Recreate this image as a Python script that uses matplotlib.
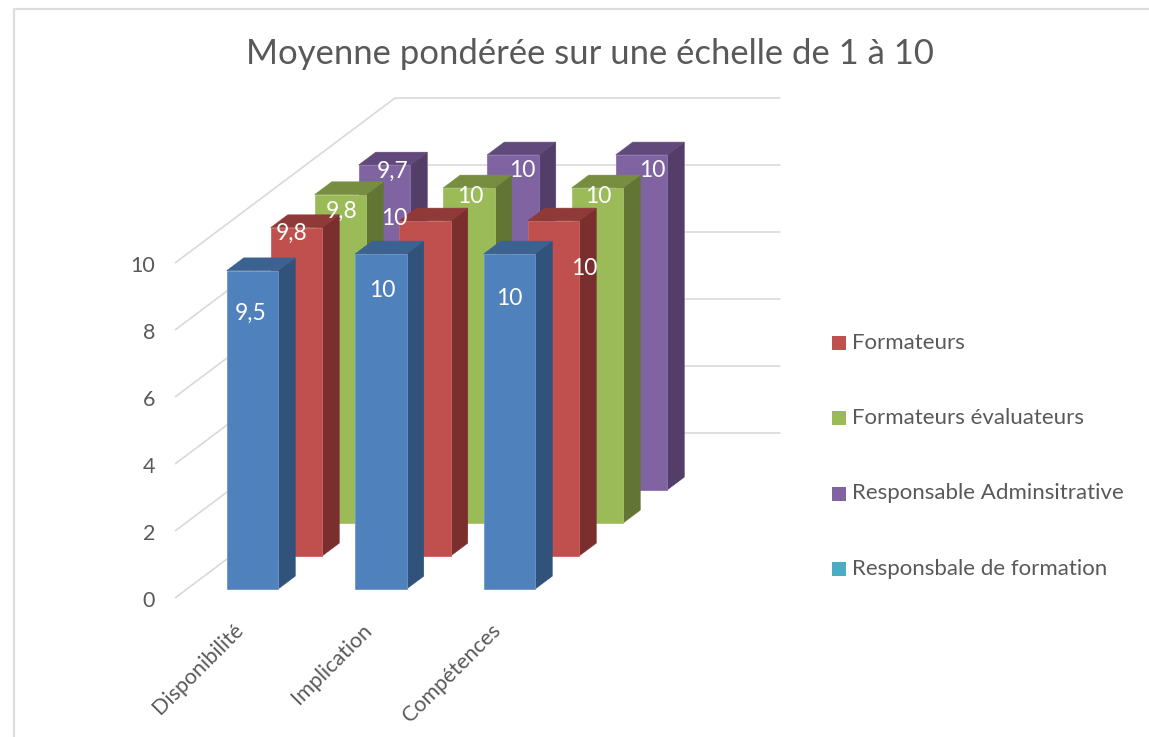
import matplotlib
matplotlib.use("Agg")
import matplotlib.pyplot as plt
from matplotlib.patches import Polygon, Rectangle

title = "Moyenne pondérée sur une échelle de 1 à 10"
categories = ["Disponibilité", "Implication", "Compétences"]
series_names = ["Série 1", "Formateurs", "Formateurs évaluateurs",
                "Responsable Adminsitrative", "Responsbale de formation"]
blue_values = [9.5, 10, 10]
red_values = [9.8, 10, 10]
green_values = [9.8, 10, 10]
purple_values = [9.7, 10, 10]
teal_values = [None, None, None]
value_labels_blue = ["9,5", "10", "10"]
value_labels_red = ["9,8", "10", "10"]
value_labels_green = ["9,8", "10", "10"]
value_labels_purple = ["9,7", "10", "10"]
y_ticks = [0, 2, 4, 6, 8, 10]

series_values = [blue_values, red_values, green_values, purple_values, teal_values]
series_labels = [value_labels_blue, value_labels_red, value_labels_green,
                 value_labels_purple, [None] * 3]
# front, top, side colours
palette = [("#4F81BD", "#3B6291", "#31527A"),
           ("#C0504D", "#8F3A38", "#7A2F2E"),
           ("#9BBB59", "#778E41", "#637535"),
           ("#8064A2", "#614A7B", "#523E69"),
           ("#4BACC6", "#38829A", "#2F6E82")]
edge_colors = ["#6E96C9", "#C96562", "#A6C46C", "#8D72AE", "#8CCBDD"]

# offsets of value labels from the front-face centre / top of each bar (pixels)
label_shift = {(0, 0): (-2, 42), (0, 1): (1, 36), (0, 2): (0, 44),
               (1, 0): (-5, 5), (1, 1): (-31, -3), (1, 2): (31, 47),
               (2, 0): (1, 16), (2, 1): (1, 8), (2, 2): (1, 8),
               (3, 0): (8, 5), (3, 1): (9, 15), (3, 2): (11, 15)}

FONT = "Lato"
TEXT = "#595959"
GRID = "#D9D9D9"
W, H = 1149, 737
X0, Y0 = 175, 598          # front-left floor corner
UNIT = 33.5                # pixels per value unit
CAT_W = 128.5              # pixels per category
BAR_W = 51.5
BAR_DROP = 1               # bars sit one pixel below the projected floor
DEPTH_X, DEPTH_Y = 44, 33  # shift per series row
BAR_D = 17 / 44            # bar depth as a fraction of one row

fig = plt.figure(figsize=(W / 100, H / 100), dpi=100)
ax = fig.add_axes([0, 0, 1, 1])
ax.set_xlim(0, W)
ax.set_ylim(H, 0)
ax.axis("off")


def project(cat_pos, row, value, drop=0):
    """Oblique projection from (category px, series row, value) to the page."""
    return (X0 + cat_pos + row * DEPTH_X,
            Y0 - value * UNIT - row * DEPTH_Y + drop)


# outer frame
ax.plot([13.5, 13.5, W], [H, 8.5, 8.5], color="#DDDDDD", lw=1.6, zorder=1)

# walls and gridlines
n_rows = len(series_values)
n_cats = len(categories)
for v in y_ticks:
    pts = [project(0, 0, v), project(0, n_rows, v),
           project(n_cats * CAT_W, n_rows, v)]
    ax.plot(*zip(*pts), color=GRID, lw=1.2, zorder=2, solid_capstyle="butt")
    ax.text(X0 - 20, project(0, 0, v)[1] + 3, str(v), ha="right", va="center",
            family=FONT, fontsize=15.5, color=TEXT)

# bars, back to front
z = 3
labels_to_draw = []
for row in reversed(range(n_rows)):
    front, top, side = palette[row]
    z += 1
    for c, val in enumerate(series_values[row]):
        if val is None:
            continue
        x_l = (c + 0.5) * CAT_W - 26
        x_r = x_l + BAR_W
        r0 = row + (1 - BAR_D) / 2
        r1 = r0 + BAR_D
        d = BAR_DROP
        ax.add_patch(Polygon([project(x_r, r0, 0, d), project(x_r, r1, 0, d),
                              project(x_r, r1, val, d), project(x_r, r0, val, d)],
                             closed=True, fc=side, ec=side, lw=0.4, zorder=z))
        ax.add_patch(Polygon([project(x_l, r0, val, d), project(x_l, r1, val, d),
                              project(x_r, r1, val, d), project(x_r, r0, val, d)],
                             closed=True, fc=top, ec=top, lw=0.4, zorder=z))
        ax.add_patch(Polygon([project(x_l, r0, 0, d), project(x_r, r0, 0, d),
                              project(x_r, r0, val, d), project(x_l, r0, val, d)],
                             closed=True, fc=front, ec=edge_colors[row], lw=0.6,
                             zorder=z + 0.5))
        cx, ty = project((x_l + x_r) / 2, r0, val, d)
        dx, dy = label_shift[(row, c)]
        labels_to_draw.append((cx + dx, ty + dy + 1, series_labels[row][c]))
for tx, ty, s in labels_to_draw:
    ax.text(tx, ty, s, ha="center", va="center", family=FONT, fontsize=16.5,
            color="white", zorder=50)

# category labels
for c, name in enumerate(categories):
    x_r = project((c + 0.5) * CAT_W, 0, 0)[0] + 1
    ax.text(x_r, 627, name, rotation=45, rotation_mode="anchor",
            ha="right", va="center", family=FONT, fontsize=15.5, color=TEXT)

# legend
for i, (name, cols) in enumerate(zip(series_names[1:], palette[1:])):
    y = 343 + i * 75.4
    ax.add_patch(Rectangle((832, y - 7), 14, 14, fc=cols[0], ec="none", zorder=5))
    ax.text(852, y - 0.5, name, ha="left", va="center", family=FONT,
            fontsize=16, color=TEXT)

ax.text(589.5, 54, title, ha="center", va="center", family=FONT, fontsize=24.9,
        color=TEXT)

fig.savefig("out.png", dpi=100)
